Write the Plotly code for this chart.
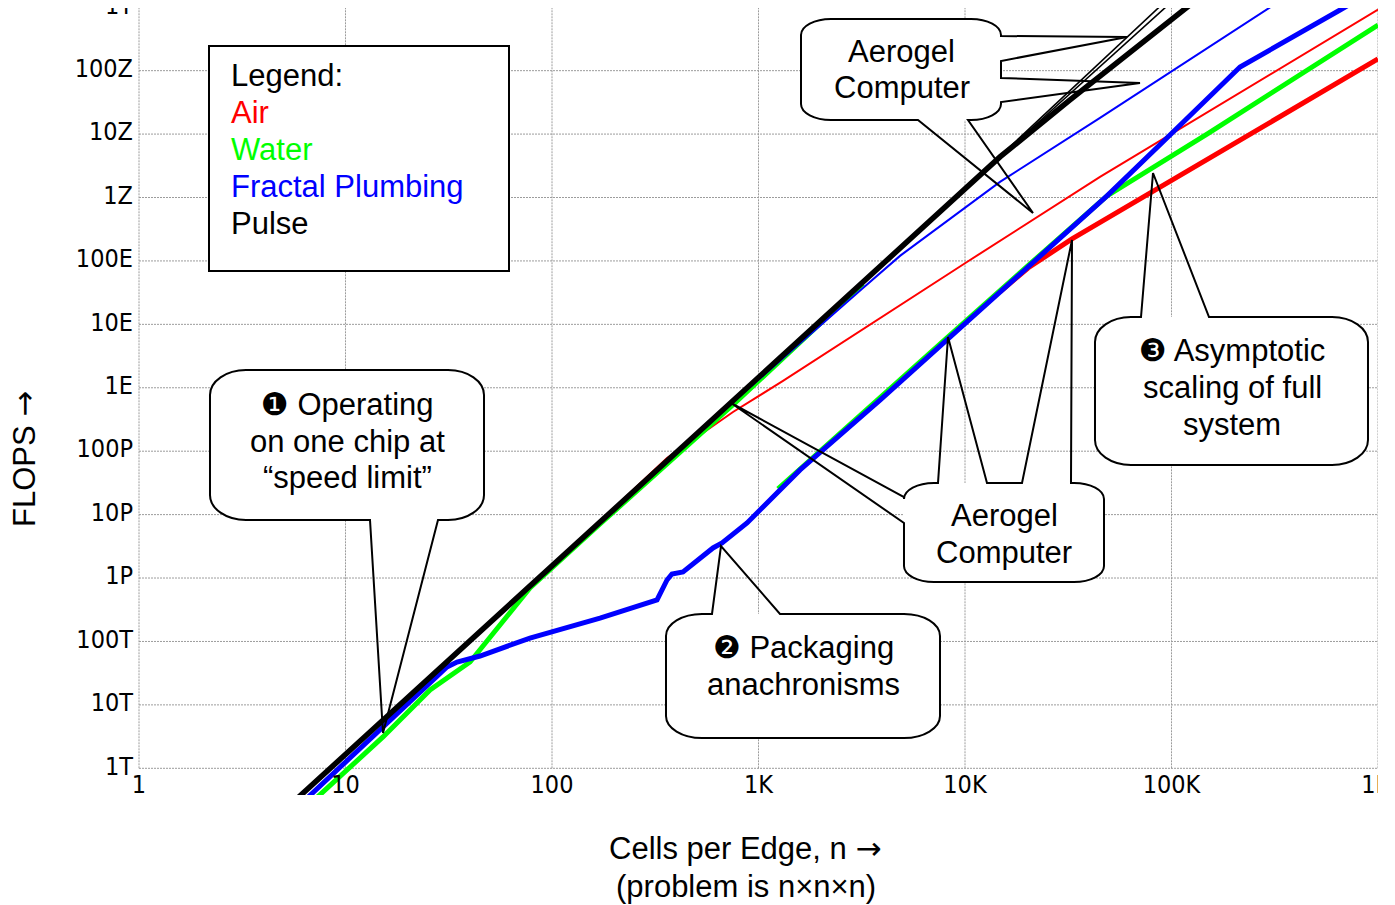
import plotly.graph_objects as go

# ---------------- axis ticks ----------------
x_tick_vals = [1, 10, 100, 1e3, 1e4, 1e5, 1e6]
x_tick_text = ["1", "10", "100", "1K", "10K", "100K", "1M"]
y_tick_vals = [1e12, 1e13, 1e14, 1e15, 1e16, 1e17, 1e18, 1e19, 1e20, 1e21, 1e22, 1e23, 1e24]
y_tick_text = ["1T", "10T", "100T", "1P", "10P", "100P", "1E", "10E", "100E",
               "1Z", "10Z", "100Z", "1Y"]

# ---------------- series (n = cells per edge, FLOPS) ----------------
# Pulse cooling, full system
pulse_n = [5.39, 14.69, 78.2, 752.5, 3207, 14770, 32250, 116300, 137400]
pulse_f = [2.64e11, 5.18e12, 7.76e14, 6.41e17, 4.49e19, 4.36e21, 3.45e22, 9.40e23, 1.45e24]

# Pulse cooling, aerogel computer (two variants)
pulse_aero_a_n = [9458, 85080, 98330]
pulse_aero_a_f = [1.15e21, 9.40e23, 1.45e24]
pulse_aero_b_n = [14770, 91990, 106300]
pulse_aero_b_f = [4.36e21, 9.40e23, 1.45e24]

# Fractal plumbing, full system
fractal_n = [6.37, 15.54, 31.0, 34.7, 44.8, 78.2, 170.8, 322.5, 360.5, 381, 431, 602, 666,
             880, 1589, 3877, 8460, 20640, 48720, 98330, 214700, 654700, 1e6]
fractal_f = [3.16e11, 4.82e12, 3.96e13, 4.74e13, 5.90e13, 1.13e14, 2.34e14, 4.51e14, 9.31e14,
             1.16e15, 1.25e15, 2.98e15, 3.57e15, 7.38e15, 5.06e16, 6.41e17, 6.32e18, 8.96e19,
             1.06e21, 9.68e21, 1.14e23, 9.06e23, 1.99e24]

# Fractal plumbing, aerogel computer
fractal_aero_n = [14.69, 78.2, 752.5, 1920, 3207, 4844, 14770, 45060, 293400, 358500]
fractal_aero_f = [4.82e12, 7.23e14, 5.97e17, 8.77e18, 3.74e19, 1.20e20, 1.76e21, 1.80e22,
                  9.40e23, 1.45e24]

# Air cooling, aerogel computer
air_aero_n = [14.69, 78.2, 152.8, 246.8, 360.5, 752.5, 1314, 10220, 45060, 1e6]
air_aero_f = [4.9e12, 7.3e14, 5.52e15, 2.44e16, 7.82e16, 4.15e17, 1.28e18, 9.62e19,
              2.11e21, 9.2e23]

# Air cooling, full system
air_n = [14770, 20190, 32980, 1e6]
air_f = [3.24e19, 7.74e19, 2.22e20, 1.53e23]

# Water cooling, single chip regime
water_chip_n = [6.88, 15.19, 25.66, 40.09, 78.2, 170.8, 769.5, 1589, 3207]
water_chip_f = [2.94e11, 3.12e12, 1.72e13, 4.74e13, 6.97e14, 7.11e15, 5.75e17, 5.3e18, 4.4e19]

# Water cooling, full system
water_n = [1243, 3877, 8460, 20640, 48720, 148600, 1e6]
water_f = [2.54e16, 7.16e17, 6.79e18, 8.96e19, 1.06e21, 1.00e22, 5.25e23]

# ---------------- page geometry ----------------
W, H = 1395, 905
ML, MR, MT, MB = 65, 17, 8, 110
PW = W - ML - MR
PH = H - MT - MB

RED, GREEN, BLUE, BLACK = "#ff0000", "#00ff00", "#0000ff", "#000000"
TEXT_FONT = "Liberation Sans, Arial, DejaVu Sans, sans-serif"
TICK_FONT = "Liberation Sans Narrow, Arial Narrow, DejaVu Sans Condensed, sans-serif"
ARROW = '<span style="font-family:DejaVu Sans">→</span>'


def P(x, y):
    """Page pixel -> paper coordinate string."""
    return f"{(x - ML) / PW:.5f},{(H - MB - y) / PH:.5f}"


def ppx(x):
    return (x - ML) / PW


def ppy(y):
    return (H - MB - y) / PH


K = 0.5523


def box_path(x0, y0, x1, y1, rx, ry, top=(), right=(), bottom=(), left=()):
    d = [f"M{P(x0 + rx, y0)}"]
    for a, b, tx, ty in sorted(top):
        d += [f"L{P(a, y0)}", f"L{P(tx, ty)}", f"L{P(b, y0)}"]
    d.append(f"L{P(x1 - rx, y0)}")
    d.append(f"C{P(x1 - rx + K * rx, y0)} {P(x1, y0 + ry - K * ry)} {P(x1, y0 + ry)}")
    for a, b, tx, ty in sorted(right):
        d += [f"L{P(x1, a)}", f"L{P(tx, ty)}", f"L{P(x1, b)}"]
    d.append(f"L{P(x1, y1 - ry)}")
    d.append(f"C{P(x1, y1 - ry + K * ry)} {P(x1 - rx + K * rx, y1)} {P(x1 - rx, y1)}")
    for a, b, tx, ty in sorted(bottom, reverse=True):
        d += [f"L{P(b, y1)}", f"L{P(tx, ty)}", f"L{P(a, y1)}"]
    d.append(f"L{P(x0 + rx, y1)}")
    d.append(f"C{P(x0 + rx - K * rx, y1)} {P(x0, y1 - ry + K * ry)} {P(x0, y1 - ry)}")
    for a, b, tx, ty in sorted(left, reverse=True):
        d += [f"L{P(x0, b)}", f"L{P(tx, ty)}", f"L{P(x0, a)}"]
    d.append(f"L{P(x0, y0 + ry)}")
    d.append(f"C{P(x0, y0 + ry - K * ry)} {P(x0 + rx - K * rx, y0)} {P(x0 + rx, y0)}")
    d.append("Z")
    return " ".join(d)


fig = go.Figure()

# ---------------- dotted decade grid ----------------
gx, gy = [], []
for xv in x_tick_vals:
    gx += [xv, xv, None]
    gy += [y_tick_vals[0], y_tick_vals[-1], None]
for yv in y_tick_vals:
    gx += [x_tick_vals[0], x_tick_vals[-1], None]
    gy += [yv, yv, None]
fig.add_trace(go.Scatter(x=gx, y=gy, mode="lines", hoverinfo="skip",
                         line=dict(color="#9c9c9c", width=1, dash="2px,1px")))

# ---------------- curves ----------------
def curve(xs, ys, color, width):
    fig.add_trace(go.Scatter(x=xs, y=ys, mode="lines", line=dict(color=color, width=width)))


curve(air_aero_n, air_aero_f, RED, 2)
curve(air_n, air_f, RED, 5)
curve(water_chip_n, water_chip_f, GREEN, 5)
curve(water_n, water_f, GREEN, 5)
curve(fractal_aero_n, fractal_aero_f, BLUE, 2)
curve(fractal_n, fractal_f, BLUE, 5)
curve(pulse_aero_a_n, pulse_aero_a_f, BLACK, 1.6)
curve(pulse_aero_b_n, pulse_aero_b_f, BLACK, 1.6)
curve(pulse_n, pulse_f, BLACK, 5.5)

# ---------------- tick labels (clipped to the plotting region) ----------------
tick_marker = dict(size=8, color="rgba(0,0,0,0)")
fig.add_trace(go.Scatter(x=[x_tick_vals[0]] * len(y_tick_vals), y=y_tick_vals,
                         mode="markers+text", text=y_tick_text, textposition="middle left",
                         marker=tick_marker,
                         textfont=dict(family=TICK_FONT, size=25, color=BLACK)))
fig.add_trace(go.Scatter(x=x_tick_vals, y=[y_tick_vals[0]] * len(x_tick_vals),
                         mode="markers+text", text=x_tick_text, textposition="bottom center",
                         marker=tick_marker,
                         textfont=dict(family=TICK_FONT, size=25, color=BLACK)))

# ---------------- legend box and callouts ----------------
shapes = []
shapes.append(dict(type="rect", xref="paper", yref="paper",
                   x0=ppx(209), x1=ppx(509), y0=ppy(271), y1=ppy(46),
                   fillcolor="white", line=dict(color=BLACK, width=2)))

callouts = [
    # (x0, y0, x1, y1, rx, ry, tails)
    (210, 370, 484, 520, 36, 25, dict(bottom=[(370, 438, 383, 733)])),
    (666, 614, 940, 738, 36, 22, dict(top=[(712, 780, 721, 546)])),
    (1095, 317, 1368, 465, 36, 25, dict(top=[(1141, 1209, 1153, 173)])),
    (801, 19, 1001, 120, 30, 16, dict(right=[(36, 61, 1127, 37), (78, 102, 1140, 83)],
                                      bottom=[(918, 968, 1033, 213)])),
    (904, 483, 1104, 582, 30, 16, dict(left=[(497, 523, 731, 403)],
                                       top=[(938, 987, 948, 337), (1022, 1071, 1072, 240)])),
]
for x0, y0, x1, y1, rx, ry, tails in callouts:
    shapes.append(dict(type="path", xref="paper", yref="paper",
                       path=box_path(x0, y0, x1, y1, rx, ry),
                       fillcolor="white", line=dict(width=0)))
    shapes.append(dict(type="path", xref="paper", yref="paper",
                       path=box_path(x0, y0, x1, y1, rx, ry, **tails),
                       fillcolor="rgba(0,0,0,0)", line=dict(color=BLACK, width=2)))

# ---------------- text ----------------
annotations = []


def label(text, x, y, color=BLACK, size=31, anchor="center", angle=0):
    annotations.append(dict(text=text, x=ppx(x), y=ppy(y), xref="paper", yref="paper",
                            xanchor=anchor, yanchor="middle", showarrow=False,
                            textangle=angle,
                            font=dict(family=TEXT_FONT, size=size, color=color)))


legend_rows = [("Legend:", BLACK), ("Air", RED), ("Water", GREEN),
               ("Fractal Plumbing", BLUE), ("Pulse", BLACK)]
for i, (t, c) in enumerate(legend_rows):
    label(t, 229, 75 + 37 * i, color=c, anchor="left")

for i, t in enumerate(["❶ Operating", "on one chip at", "“speed limit”"]):
    label(t, 347, 404 + 37 * i)
for i, t in enumerate(["❷ Packaging", "anachronisms"]):
    label(t, 803, 647 + 37 * i)
for i, t in enumerate(["❸ Asymptotic", "scaling of full", "system"]):
    label(t, 1232, 350 + 37 * i)
for i, t in enumerate(["Aerogel", "Computer"]):
    label(t, 902, 51 + 37 * i)
for i, t in enumerate(["Aerogel", "Computer"]):
    label(t, 1004, 515 + 37 * i)

label(f"Cells per Edge, n {ARROW}", 745, 848)
label("(problem is n×n×n)", 746, 886)
label(f"FLOPS {ARROW}", 24, 459, angle=-90)

fig.update_layout(
    width=W, height=H,
    margin=dict(l=ML, r=MR, t=MT, b=MB, pad=0),
    paper_bgcolor="white", plot_bgcolor="white",
    showlegend=False, hovermode=False,
    xaxis=dict(type="log", range=[-0.3584, 6.0], showgrid=False, zeroline=False,
               showticklabels=False, ticks="", showline=False),
    yaxis=dict(type="log", range=[11.579, 23.988], showgrid=False, zeroline=False,
               showticklabels=False, ticks="", showline=False),
    shapes=shapes,
    annotations=annotations,
)

fig.write_html("out.html")
